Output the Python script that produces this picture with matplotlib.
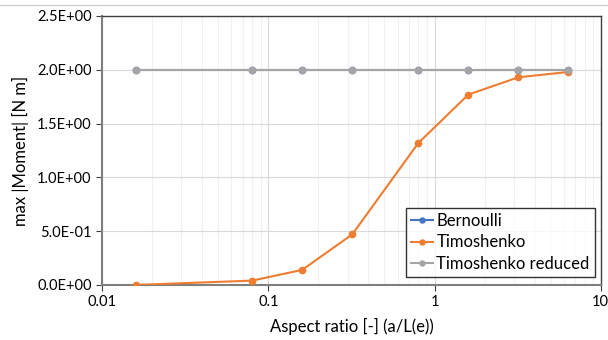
import matplotlib.pyplot as plt
import numpy as np
from matplotlib.ticker import FixedLocator, FuncFormatter, LogLocator, NullFormatter

plt.rcParams["font.family"] = ["Lato", "DejaVu Sans"]

# data
ASPECT = [0.016, 0.08, 0.16, 0.32, 0.8, 1.6, 3.2, 6.4]
BERNOULLI = [2.0, 2.0, 2.0, 2.0, 2.0, 2.0, 2.0, 2.0]
TIMOSHENKO = [0.0, 0.04, 0.14, 0.47, 1.32, 1.77, 1.93, 1.98]
TIMO_REDUCED = [2.0, 2.0, 2.0, 2.0, 2.0, 2.0, 2.0, 2.0]

C_BERN = "#4472c4"
C_TIMO = "#ed7d31"
C_RED = "#a5a5a5"

fig = plt.figure(figsize=(6.08, 3.40), dpi=100)
ax = fig.add_axes([0.168, 0.162, 0.820, 0.791])

ax.plot(ASPECT, BERNOULLI, color=C_BERN, marker="o", ms=4.5, lw=1.5, label="Bernoulli", zorder=3)
ax.plot(ASPECT, TIMOSHENKO, color=C_TIMO, marker="o", ms=4.5, lw=1.5, label="Timoshenko", zorder=4)
ax.plot(ASPECT, TIMO_REDUCED, color=C_RED, marker="o", ms=4.5, lw=1.5, label="Timoshenko reduced", zorder=5)

ax.set_xscale("log")
ax.set_xlim(0.01, 10)
ax.set_ylim(0, 2.5)
ax.xaxis.set_major_locator(FixedLocator([0.01, 0.1, 1, 10]))
ax.xaxis.set_major_formatter(FuncFormatter(lambda v, p: f"{v:g}"))
ax.xaxis.set_minor_locator(LogLocator(base=10, subs=np.arange(2, 10)))
ax.xaxis.set_minor_formatter(NullFormatter())
ax.set_yticks(np.arange(0, 2.51, 0.5))
ax.yaxis.set_major_formatter(FuncFormatter(lambda v, p: f"{v:.1E}"))

ax.grid(which="major", color="#d9d9d9", lw=0.8)
ax.grid(which="minor", axis="x", color="#f0f0f0", lw=0.8)
ax.set_axisbelow(True)

for s in ax.spines.values():
    s.set_color("#404040")
    s.set_linewidth(1.0)
ax.spines["left"].set_color("#7f7f7f")
ax.spines["bottom"].set_color("#7f7f7f")
ax.spines["left"].set_linewidth(1.5)
ax.spines["bottom"].set_linewidth(1.5)

ax.tick_params(axis="both", which="major", labelsize=10.5, colors="#404040", labelcolor="black", length=4)
ax.tick_params(axis="x", which="minor", length=0)

ax.set_xlabel("Aspect ratio [-] (a/L(e))", fontsize=12, labelpad=6)
ax.set_ylabel("max |Moment| [N m]", fontsize=12, labelpad=6)

leg = ax.legend(loc="lower right", bbox_to_anchor=(0.988, 0.03), borderaxespad=0,
                fontsize=12, frameon=True, fancybox=False, edgecolor="black",
                handlelength=1.3, handletextpad=0.2, borderpad=0.3,
                labelspacing=0.33, markerscale=0.8)
leg.get_frame().set_linewidth(1.0)

fig.add_artist(plt.Line2D([0, 1], [0.985, 0.985], color="#d0d0d0", lw=1.0, transform=fig.transFigure))

fig.savefig("out.png", dpi=100, facecolor="white")
